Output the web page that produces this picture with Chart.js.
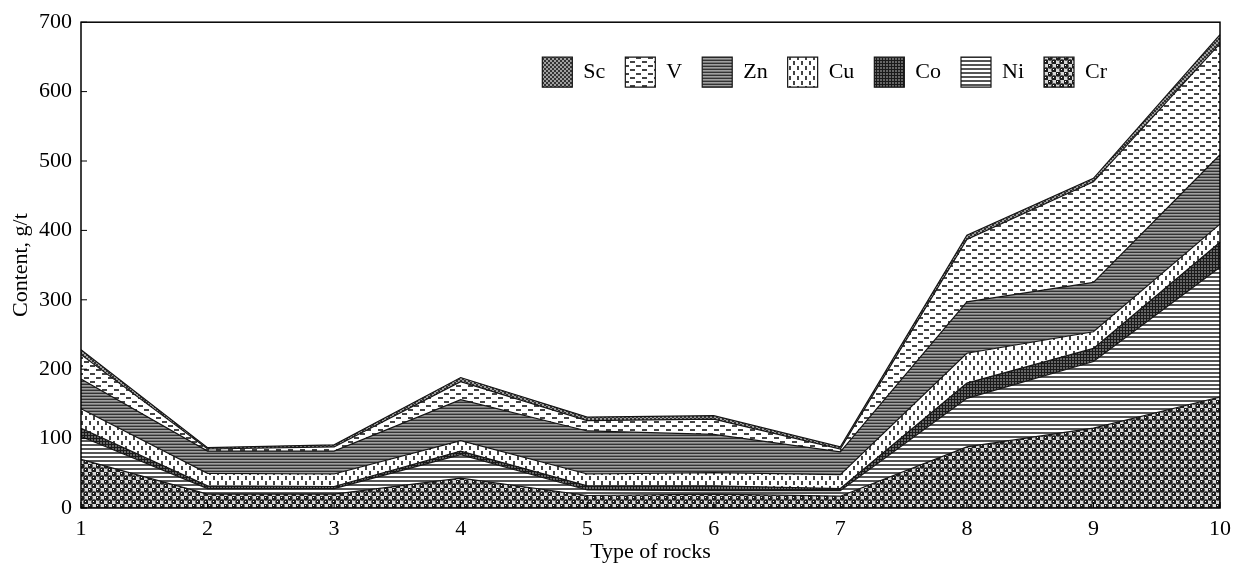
<!DOCTYPE html>
<html>
<head>
<meta charset="utf-8">
<script src="https://cdn.jsdelivr.net/npm/chart.js@4.4.1/dist/chart.umd.min.js"></script>
<style>
  html, body { margin: 0; padding: 0; background: #fff; }
  #wrap { width: 1241px; height: 569px; }
</style>
</head>
<body>
<div id="wrap"><canvas id="chart" width="1241" height="569"></canvas></div>
<script>
// Type of rocks (x categories)
const ROCKS = ['1', '2', '3', '4', '5', '6', '7', '8', '9', '10'];

// Content, g/t, stacked from the bottom up
const CR = [70, 20, 20, 43, 18, 20, 17, 88, 115, 160];
const NI = [33, 8, 8, 34, 8, 5, 8, 70, 96, 187];
const CO = [12, 4, 3, 5, 6, 7, 3, 22, 19, 36];
const CU = [28, 18, 18, 15, 17, 19, 20, 43, 24, 26];
const ZN = [43, 32, 33, 59, 62, 55, 33, 74, 71, 100];
const V  = [35, 3, 6, 26, 15, 22, 4, 90, 145, 160];
const SC = [7, 2, 3, 6, 5, 5, 3, 6, 5, 13];

const Y_TICKS = [0, 100, 200, 300, 400, 500, 600, 700];

const FONT = 'Liberation Serif, Times New Roman, serif';

function makePattern(w, h, draw) {
  const c = document.createElement('canvas');
  c.width = w; c.height = h;
  const g = c.getContext('2d');
  draw(g);
  return g.createPattern(c, 'repeat');
}

// hatch patterns, roughly like the printed figure
const PAT = {
  Sc: makePattern(4, 4, g => {
    g.fillStyle = '#a0a0a0'; g.fillRect(0, 0, 4, 4);
    g.fillStyle = '#333'; g.fillRect(0, 0, 2, 2); g.fillRect(2, 2, 2, 2);
  }),
  V: makePattern(12, 8, g => {
    g.fillStyle = '#fff'; g.fillRect(0, 0, 12, 8);
    g.fillStyle = '#444'; g.fillRect(0, 1, 5, 2); g.fillRect(6, 5, 5, 2);
  }),
  Zn: makePattern(4, 3, g => {
    g.fillStyle = '#a0a0a0'; g.fillRect(0, 0, 4, 3);
    g.fillStyle = '#333'; g.fillRect(0, 0, 4, 1);
    g.fillStyle = '#777'; g.fillRect(0, 2, 4, 1);
  }),
  Cu: makePattern(8, 10, g => {
    g.fillStyle = '#fff'; g.fillRect(0, 0, 8, 10);
    g.fillStyle = '#444'; g.fillRect(1, 1, 2, 4); g.fillRect(5, 6, 2, 4);
  }),
  Co: makePattern(3, 3, g => {
    g.fillStyle = '#666'; g.fillRect(0, 0, 3, 3);
    g.fillStyle = '#1a1a1a'; g.fillRect(0, 0, 1, 3); g.fillRect(0, 0, 3, 1);
  }),
  Ni: makePattern(4, 4, g => {
    g.fillStyle = '#fff'; g.fillRect(0, 0, 4, 4);
    g.fillStyle = '#555'; g.fillRect(0, 0, 4, 2);
  }),
  Cr: makePattern(8, 8, g => {
    g.fillStyle = '#d8d8d8'; g.fillRect(0, 0, 8, 8);
    g.fillStyle = '#1e1e1e';
    g.beginPath(); g.arc(2, 2, 2.7, 0, Math.PI * 2); g.fill();
    g.beginPath(); g.arc(6, 6, 2.7, 0, Math.PI * 2); g.fill();
    g.fillStyle = '#fff'; g.fillRect(1, 1, 1, 1); g.fillRect(5, 5, 1, 1);
  })
};

function series(label, data, first) {
  return {
    label,
    data,
    backgroundColor: PAT[label],
    borderColor: '#151515',
    borderWidth: 1.2,
    fill: first ? 'origin' : '-1',
    pointRadius: 0,
    tension: 0
  };
}

// frame around the plot + inward tick marks, legend moved into the plot
const framePlugin = {
  id: 'frame',
  afterLayout(chart) {
    const lg = chart.legend;
    const a = chart.chartArea;
    if (lg) {
      const dy = a.top + 15 - lg.top;
      lg.top += dy; lg.bottom += dy;
      lg.right = a.right - 93;
    }
  },
  afterDraw(chart) {
    const { ctx, chartArea: a, scales } = chart;
    ctx.save();
    ctx.strokeStyle = '#000';
    ctx.lineWidth = 1.5;
    ctx.strokeRect(a.left, a.top, a.right - a.left, a.bottom - a.top);
    ctx.lineWidth = 1;
    ctx.beginPath();
    scales.y.ticks.forEach(t => {
      const y = scales.y.getPixelForValue(t.value);
      ctx.moveTo(a.left, y); ctx.lineTo(a.left + 6, y);
    });
    ROCKS.forEach((_, i) => {
      const x = scales.x.getPixelForValue(i);
      ctx.moveTo(x, a.bottom); ctx.lineTo(x, a.bottom - 6);
    });
    ctx.stroke();
    ctx.restore();
  }
};

const chart = new Chart(document.getElementById('chart'), {
  type: 'line',
  data: {
    labels: ROCKS,
    datasets: [
      series('Cr', CR, true),
      series('Ni', NI),
      series('Co', CO),
      series('Cu', CU),
      series('Zn', ZN),
      series('V', V),
      series('Sc', SC)
    ]
  },
  options: {
    responsive: false,
    animation: false,
    // legend (60 px tall) sits above; negative top keeps the plot top at 20
    layout: { padding: { top: -40, right: 21, left: 0, bottom: 0 } },
    plugins: {
      tooltip: { enabled: false },
      legend: {
        position: 'top',
        align: 'end',
        reverse: true,
        labels: {
          boxWidth: 30,
          boxHeight: 30,
          padding: 20,
          color: '#000',
          font: { family: FONT, size: 22 }
        }
      }
    },
    scales: {
      x: {
        offset: false,
        grid: { display: false, drawTicks: false },
        border: { display: false },
        ticks: { color: '#000', font: { family: FONT, size: 22 }, padding: 8, maxRotation: 0, autoSkip: false },
        title: { display: true, text: 'Type of rocks', color: '#000', font: { family: FONT, size: 22 }, padding: { top: 0, bottom: 4 } },
        afterFit: s => { s.height = 61; }
      },
      y: {
        stacked: true,
        min: 0,
        max: 700,
        grid: { display: false, drawTicks: false },
        border: { display: false },
        afterBuildTicks: s => { s.ticks = Y_TICKS.map(v => ({ value: v })); },
        ticks: { color: '#000', font: { family: FONT, size: 22 }, padding: 9 },
        title: { display: true, text: 'Content, g/t', color: '#000', font: { family: FONT, size: 22 }, padding: { top: 8, bottom: 0 } },
        afterFit: s => { s.width = 81; }
      }
    }
  },
  plugins: [framePlugin]
});
</script>
</body>
</html>
